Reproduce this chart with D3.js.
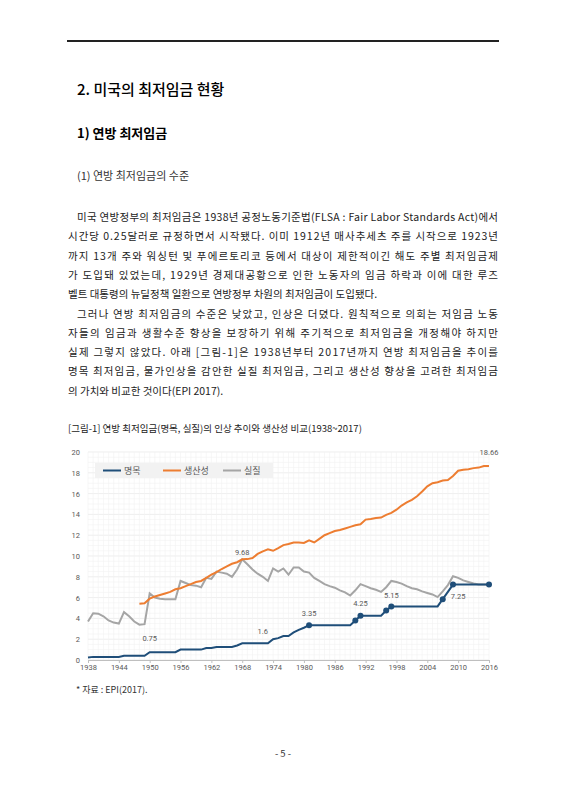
<!DOCTYPE html>
<html><head><meta charset="utf-8">
<script src="https://cdn.jsdelivr.net/npm/d3@7"></script>
<style>body{margin:0;background:#fff}svg{display:block}</style>
</head><body>
<svg id="page" width="566" height="800"></svg>
<script>
const years = d3.range(1938, 2017);
const nominal = [0.25,0.30,0.30,0.30,0.30,0.30,0.30,0.40,0.40,0.40,0.40,0.40,0.75,0.75,0.75,0.75,0.75,0.75,1.00,1.00,1.00,1.00,1.00,1.15,1.15,1.25,1.25,1.25,1.25,1.40,1.60,1.60,1.60,1.60,1.60,1.60,2.00,2.10,2.30,2.30,2.65,2.90,3.10,3.35,3.35,3.35,3.35,3.35,3.35,3.35,3.35,3.35,3.80,4.25,4.25,4.25,4.25,4.25,4.75,5.15,5.15,5.15,5.15,5.15,5.15,5.15,5.15,5.15,5.15,5.85,6.55,7.25,7.25,7.25,7.25,7.25,7.25,7.25,7.25];
const real = [3.7,4.5,4.45,4.2,3.8,3.6,3.5,4.6,4.2,3.7,3.4,3.45,6.4,6.0,5.9,5.85,5.85,5.85,7.6,7.4,7.2,7.15,7.0,7.9,7.8,8.5,8.4,8.3,8.0,8.7,9.68,9.2,8.7,8.3,8.0,7.6,8.8,8.5,8.8,8.2,8.9,8.9,8.5,8.4,7.9,7.6,7.3,7.1,6.95,6.7,6.5,6.2,6.7,7.3,7.1,6.9,6.75,6.55,7.0,7.6,7.5,7.35,7.1,6.9,6.8,6.6,6.45,6.3,6.05,6.6,7.2,8.05,7.9,7.65,7.5,7.35,7.25,7.25,7.25];
const prodYears = d3.range(1948, 2017);
const productivity = [5.4,5.45,5.9,6.1,6.25,6.4,6.55,6.8,6.9,7.1,7.3,7.5,7.6,7.9,8.2,8.45,8.75,9.0,9.25,9.4,9.68,9.7,9.8,10.2,10.45,10.65,10.5,10.75,11.05,11.15,11.3,11.3,11.25,11.5,11.3,11.65,12.0,12.2,12.4,12.5,12.65,12.8,12.95,13.05,13.5,13.55,13.65,13.7,13.95,14.15,14.45,14.85,15.15,15.4,15.75,16.2,16.7,17.0,17.1,17.25,17.3,17.7,18.2,18.3,18.35,18.45,18.5,18.65,18.66];
const markerYears = [1981,1990,1991,1996,1997,2007,2009,2016];
const labels = [[1950,1.8,'0.75'],[1972,2.5,'1.6'],[1981,4.2,'3.35'],[1991,5.2,'4.25'],[1997,6.0,'5.15'],[2010,5.9,'7.25'],[1968,10.1,'9.68'],[2016,19.7,'18.66']];
const xTicks = [1938,1944,1950,1956,1962,1968,1974,1980,1986,1992,1998,2004,2010,2016];
const seriesNames = ['명목','생산성','실질'];
const colors = ['#1f4e79','#ed7d31','#a5a5a5'];

const paraLines = [
 [77,'미국 연방정부의 최저임금은 1938년 공정노동기준법(FLSA : Fair Labor Standards Act)에서'],
 [68,'시간당 0.25달러로 규정하면서 시작됐다. 이미 1912년 매사추세츠 주를 시작으로 1923년'],
 [68,'까지 13개 주와 워싱턴 및 푸에르토리코 등에서 대상이 제한적이긴 해도 주별 최저임금제'],
 [68,'가 도입돼 있었는데, 1929년 경제대공황으로 인한 노동자의 임금 하락과 이에 대한 루즈'],
 [68,'벨트 대통령의 뉴딜정책 일환으로 연방정부 차원의 최저임금이 도입됐다.', false],
 [77,'그러나 연방 최저임금의 수준은 낮았고, 인상은 더뎠다. 원칙적으로 의회는 저임금 노동'],
 [68,'자들의 임금과 생활수준 향상을 보장하기 위해 주기적으로 최저임금을 개정해야 하지만'],
 [68,'실제 그렇지 않았다. 아래 [그림-1]은 1938년부터 2017년까지 연방 최저임금을 추이를'],
 [68,'명목 최저임금, 물가인상을 감안한 실질 최저임금, 그리고 생산성 향상을 고려한 최저임금'],
 [68,'의 가치와 비교한 것이다(EPI 2017).', false]
];

const svg = d3.select('#page');
const font = "'Noto Sans CJK KR', 'Noto Sans', sans-serif";

svg.append('line').attr('x1',67).attr('x2',499).attr('y1',41).attr('y2',41).attr('stroke','#222').attr('stroke-width',2);
svg.append('text').attr('x',77).attr('y',95).attr('font-family',font).attr('font-size',15).attr('font-weight',500).text('2. 미국의 최저임금 현황');
svg.append('text').attr('x',77).attr('y',138).attr('font-family',font).attr('font-size',13).attr('font-weight',700).text('1) 연방 최저임금');
svg.append('text').attr('x',77).attr('y',180).attr('font-family',font).attr('font-size',11).attr('fill','#333').text('(1) 연방 최저임금의 수준');

paraLines.forEach((l,i) => {
  const t = svg.append('text').attr('x',l[0]).attr('y',221 + i*19.3).attr('font-family',font).attr('font-size',10.5).attr('fill','#222').text(l[1]);
  if (l[2] !== false) t.attr('textLength',498-l[0]).attr('lengthAdjust','spacing');
});

svg.append('text').attr('x',68).attr('y',432).attr('font-family',font).attr('font-size',9.5).attr('fill','#222').text('[그림-1] 연방 최저임금(명목, 실질)의 인상 추이와 생산성 비교(1938~2017)');

// chart
const x = d3.scaleLinear().domain([1938, 2016]).range([88, 489]);
const y = d3.scaleLinear().domain([0, 20]).range([660, 452]);
const g = svg.append('g');

g.append('g').selectAll('line').data(d3.range(0, 20.01, 0.5)).join('line')
  .attr('x1',x(1938)).attr('x2',x(2016)).attr('y1',d=>y(d)).attr('y2',d=>y(d))
  .attr('stroke', d => d % 2 === 0 ? '#e2e2e2' : '#f1f1f1').attr('stroke-width',0.6);
g.append('g').selectAll('line').data(years).join('line')
  .attr('x1',d=>x(d)).attr('x2',d=>x(d)).attr('y1',y(0)).attr('y2',y(20))
  .attr('stroke','#f1f1f1').attr('stroke-width',0.6);

const yAxis = g.append('g').attr('transform',`translate(${x(1938)-6},0)`)
  .call(d3.axisLeft(y).tickValues(d3.range(0,21,2)).tickSize(0).tickPadding(2));
const xAxis = g.append('g').attr('transform',`translate(0,${y(0)})`)
  .call(d3.axisBottom(x).tickValues(xTicks).tickFormat(d3.format('d')).tickSize(3).tickPadding(2));
[xAxis, yAxis].forEach(a => {
  a.selectAll('text').attr('font-family','Roboto, sans-serif').attr('font-size',7.5).attr('fill','#595959');
  a.selectAll('line').attr('stroke','#bfbfbf');
});
yAxis.select('.domain').remove();
xAxis.select('.domain').attr('stroke','#bfbfbf');

const line = d3.line().x(d=>x(d[0])).y(d=>y(d[1]));
g.append('path').datum(years.map((yr,i)=>[yr,real[i]])).attr('d',line).attr('fill','none').attr('stroke',colors[2]).attr('stroke-width',2);
g.append('path').datum(prodYears.map((yr,i)=>[yr,productivity[i]])).attr('d',line).attr('fill','none').attr('stroke',colors[1]).attr('stroke-width',2);
g.append('path').datum(years.map((yr,i)=>[yr,nominal[i]])).attr('d',line).attr('fill','none').attr('stroke',colors[0]).attr('stroke-width',2);
g.selectAll('circle.m').data(markerYears).join('circle').attr('class','m')
  .attr('cx',d=>x(d)).attr('cy',d=>y(nominal[d-1938])).attr('r',3).attr('fill',colors[0]);

g.selectAll('text.lbl').data(labels).join('text').attr('class','lbl')
  .attr('x',d=>x(d[0])).attr('y',d=>y(d[1]))
  .attr('text-anchor','middle').attr('font-family','Roboto, sans-serif').attr('font-size',7.5).attr('fill','#595959')
  .text(d=>d[2]);

// legend
const lg = g.append('g').attr('transform','translate(95,463)');
lg.append('rect').attr('width',178).attr('height',15).attr('fill','#f2f2f2');
seriesNames.forEach((n,i) => {
  const ox = 8 + i*60;
  lg.append('line').attr('x1',ox).attr('x2',ox+18).attr('y1',7.5).attr('y2',7.5).attr('stroke',colors[i]).attr('stroke-width',2);
  lg.append('text').attr('x',ox+21).attr('y',11).attr('font-family',font).attr('font-size',9).attr('fill','#595959').text(n);
});

svg.append('text').attr('x',76).attr('y',693).attr('font-family',font).attr('font-size',9).attr('fill','#333').text('* 자료 : EPI(2017).');
svg.append('text').attr('x',283).attr('y',757).attr('text-anchor','middle').attr('font-family',font).attr('font-size',9.5).attr('fill','#333').text('- 5 -');
</script>
</body></html>
